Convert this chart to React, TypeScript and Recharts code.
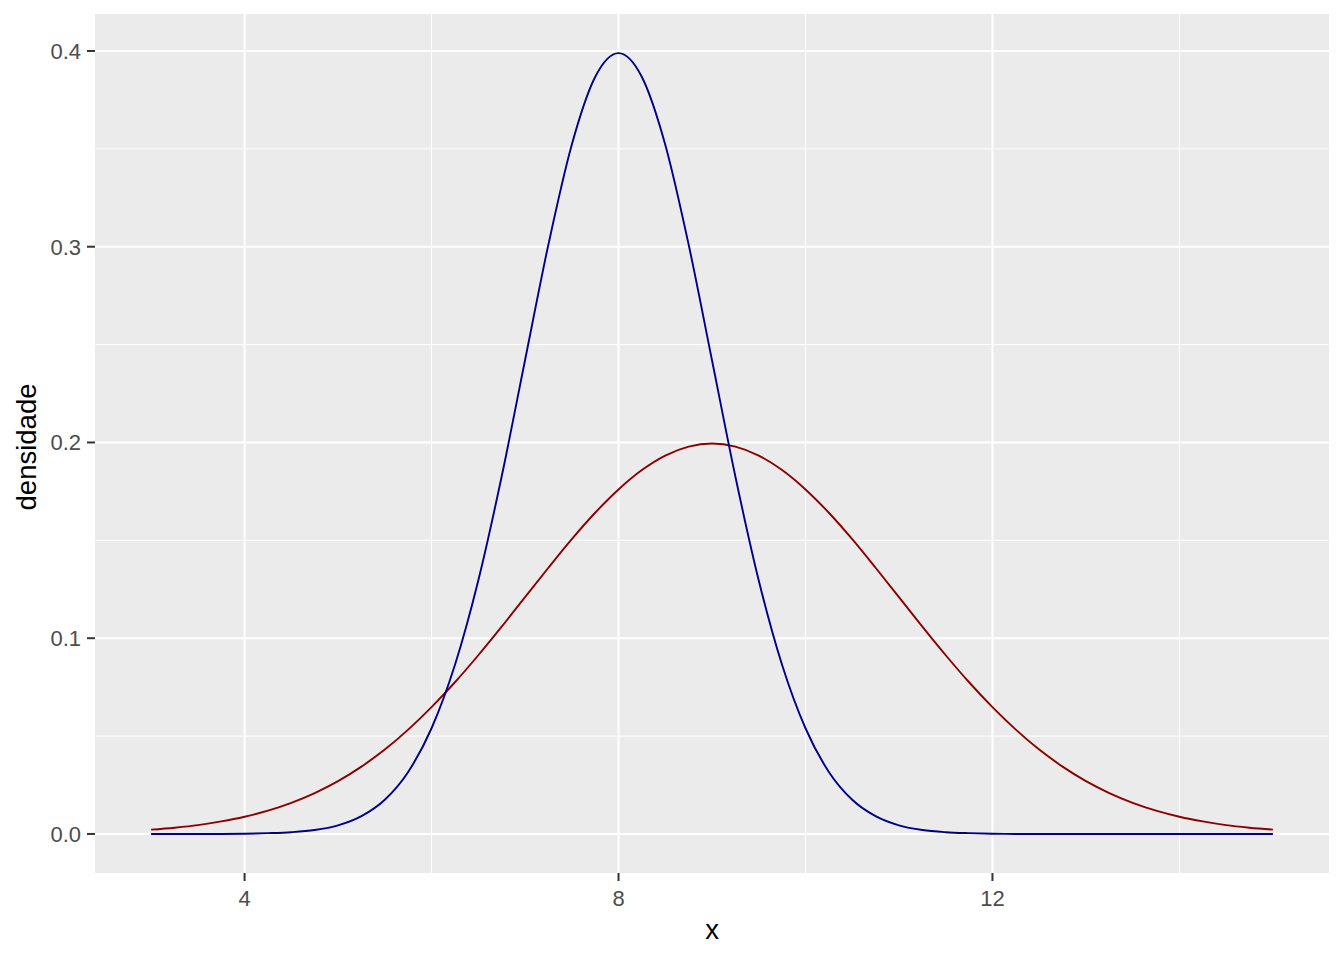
import React from 'react';
import { ComposedChart, Line, XAxis, YAxis, CartesianGrid, ReferenceLine } from 'recharts';

const xValues = [
  3, 3.25, 3.5, 3.75, 4, 4.25, 4.5, 4.75, 5, 5.25, 5.5, 5.75, 6, 6.25, 6.5, 6.75,
  7, 7.25, 7.5, 7.75, 8, 8.25, 8.5, 8.75, 9, 9.25, 9.5, 9.75, 10, 10.25, 10.5, 10.75,
  11, 11.25, 11.5, 11.75, 12, 12.25, 12.5, 12.75, 13, 13.25, 13.5, 13.75, 14, 14.25, 14.5, 14.75, 15,
];

const blueDensity = [
  0.0, 0.0, 0.0, 0.0, 0.0001, 0.0004, 0.0009, 0.002, 0.0044, 0.0091, 0.0175, 0.0317, 0.054, 0.0863, 0.1295, 0.1826,
  0.242, 0.3011, 0.3521, 0.3867, 0.3989, 0.3867, 0.3521, 0.3011, 0.242, 0.1826, 0.1295, 0.0863, 0.054, 0.0317, 0.0175, 0.0091,
  0.0044, 0.002, 0.0009, 0.0004, 0.0001, 0.0, 0.0, 0.0, 0.0, 0.0, 0.0, 0.0, 0.0, 0.0, 0.0, 0.0, 0.0,
];

const redDensity = [
  0.0022, 0.0032, 0.0045, 0.0064, 0.0088, 0.0119, 0.0159, 0.0209, 0.027, 0.0344, 0.0431, 0.0533, 0.0648, 0.0775, 0.0913, 0.1059,
  0.121, 0.136, 0.1506, 0.1641, 0.176, 0.1859, 0.1933, 0.1979, 0.1995, 0.1979, 0.1933, 0.1859, 0.176, 0.1641, 0.1506, 0.136,
  0.121, 0.1059, 0.0913, 0.0775, 0.0648, 0.0533, 0.0431, 0.0344, 0.027, 0.0209, 0.0159, 0.0119, 0.0088, 0.0064, 0.0045, 0.0032, 0.0022,
];

const xTicks = [4, 8, 12];
const xMinor = [6, 10, 14];
const yTicks = [0, 0.1, 0.2, 0.3, 0.4];
const yMinor = [0.05, 0.15, 0.25, 0.35];

const data = xValues.map((x, i) => ({ x, blue: blueDensity[i], red: redDensity[i] }));

const FONT = '"Liberation Sans", Arial, Helvetica, sans-serif';

const XTitle = (props: any) => {
  const vb = props.viewBox;
  return (
    <text x={vb.x + vb.width / 2} y={vb.y + 66} textAnchor="middle" fontSize={27.5} fill="#000000" fontFamily={FONT}>
      x
    </text>
  );
};

const YTitle = (props: any) => {
  const vb = props.viewBox;
  const cx = vb.x + 36;
  const cy = vb.y + vb.height / 2 + 3.5;
  return (
    <text x={cx} y={cy} transform={`rotate(-90 ${cx} ${cy})`} textAnchor="middle" fontSize={27.5} fill="#000000" fontFamily={FONT}>
      densidade
    </text>
  );
};

export default function App() {
  return (
    <div style={{ position: 'absolute', left: 0, top: 0, width: 1344, height: 960, background: '#ffffff' }}>
      <ComposedChart width={1344} height={960} data={data} margin={{ top: 14, right: 15, bottom: 0, left: 0 }}>
        <CartesianGrid fill="#EBEBEB" horizontal={false} vertical={false} stroke="none" />
        {xMinor.map((v) => (
          <ReferenceLine key={`xm${v}`} x={v} stroke="#FFFFFF" strokeWidth={1} />
        ))}
        {yMinor.map((v) => (
          <ReferenceLine key={`ym${v}`} y={v} stroke="#FFFFFF" strokeWidth={1} />
        ))}
        {xTicks.map((v) => (
          <ReferenceLine key={`xM${v}`} x={v} stroke="#FFFFFF" strokeWidth={2} />
        ))}
        {yTicks.map((v) => (
          <ReferenceLine key={`yM${v}`} y={v} stroke="#FFFFFF" strokeWidth={2} />
        ))}
        <XAxis
          type="number"
          dataKey="x"
          domain={[2.4, 15.6]}
          ticks={xTicks}
          allowDataOverflow
          height={87}
          axisLine={false}
          tickSize={8}
          tickMargin={9}
          tickLine={{ stroke: '#333333', strokeWidth: 2 }}
          tick={{ fill: '#4D4D4D', fontSize: 22, fontFamily: FONT }}
          label={<XTitle />}
        />
        <YAxis
          type="number"
          domain={[-0.019947, 0.418888]}
          ticks={yTicks}
          allowDataOverflow
          width={95}
          axisLine={false}
          tickSize={8}
          tickMargin={6}
          tickLine={{ stroke: '#333333', strokeWidth: 2 }}
          tick={{ fill: '#4D4D4D', fontSize: 22, fontFamily: FONT }}
          tickFormatter={(v: number) => v.toFixed(1)}
          label={<YTitle />}
        />
        <Line type="monotone" dataKey="red" stroke="#8B0000" strokeWidth={1.9} dot={false} isAnimationActive={false} />
        <Line type="monotone" dataKey="blue" stroke="#00008B" strokeWidth={1.9} dot={false} isAnimationActive={false} />
      </ComposedChart>
    </div>
  );
}
